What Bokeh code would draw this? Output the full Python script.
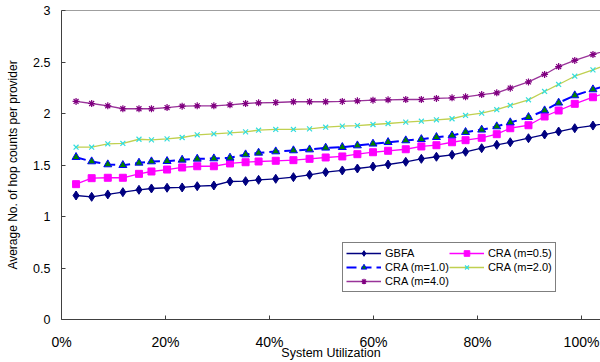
from bokeh.plotting import figure
from bokeh.models import (Range1d, FixedTicker, CustomJSTickFormatter, Legend,
                          LegendItem, Span)
from bokeh.embed import file_html
from bokeh.resources import INLINE

# ---- data ----
utilization = [2.8, 5.8, 8.9, 11.8, 14.9, 17.3, 20.3, 23.2, 26.1, 29.3, 32.4,
               35.4, 37.9, 41.2, 44.6, 47.7, 50.8, 54.0, 56.9, 59.9, 62.8, 66.2,
               69.2, 72.1, 75.1, 77.7, 80.8, 83.7, 86.3, 89.8, 92.9, 95.6, 98.7,
               102.2, 105.3]

gbfa = [1.204, 1.191, 1.214, 1.236, 1.259, 1.272, 1.279, 1.282, 1.294, 1.301, 1.340,
        1.343, 1.356, 1.366, 1.382, 1.405, 1.430, 1.447, 1.466, 1.485, 1.505, 1.531,
        1.560, 1.580, 1.599, 1.628, 1.663, 1.696, 1.721, 1.760, 1.796, 1.825, 1.857,
        1.883, 1.910]

cra_m05 = [1.314, 1.372, 1.376, 1.376, 1.414, 1.437, 1.456, 1.476, 1.488, 1.488, 1.515,
           1.527, 1.534, 1.541, 1.547, 1.560, 1.573, 1.583, 1.605, 1.624, 1.638, 1.653,
           1.680, 1.692, 1.721, 1.741, 1.764, 1.799, 1.857, 1.886, 1.971, 2.029, 2.094,
           2.158, 2.210]

cra_m10 = [1.576, 1.534, 1.505, 1.498, 1.521, 1.534, 1.537, 1.550, 1.560, 1.563, 1.570,
           1.602, 1.618, 1.631, 1.641, 1.650, 1.667, 1.673, 1.689, 1.706, 1.721, 1.738,
           1.750, 1.770, 1.786, 1.819, 1.842, 1.874, 1.913, 1.964, 2.029, 2.104, 2.175,
           2.233, 2.280]

cra_m20 = [1.673, 1.673, 1.706, 1.709, 1.750, 1.744, 1.754, 1.767, 1.793, 1.803, 1.812,
           1.822, 1.838, 1.845, 1.845, 1.851, 1.867, 1.877, 1.883, 1.893, 1.903, 1.916,
           1.925, 1.939, 1.949, 1.981, 2.004, 2.037, 2.078, 2.133, 2.214, 2.282, 2.362,
           2.424, 2.480]

cra_m40 = [2.117, 2.097, 2.075, 2.046, 2.046, 2.046, 2.058, 2.071, 2.075, 2.075, 2.084,
           2.097, 2.104, 2.107, 2.114, 2.114, 2.114, 2.117, 2.123, 2.129, 2.133, 2.136,
           2.136, 2.146, 2.152, 2.162, 2.184, 2.201, 2.246, 2.307, 2.379, 2.456, 2.515,
           2.573, 2.620]

x_ticks = [0, 20, 40, 60, 80, 100]
y_ticks = [0, 0.5, 1, 1.5, 2, 2.5, 3]

FONT = "Liberation Sans"
AXIS_COLOR = "#404040"

p = figure(width=600, height=362, output_backend="svg", toolbar_location=None,
           x_range=Range1d(0, 103.65), y_range=Range1d(0, 3),
           min_border_left=61, min_border_right=0, min_border_top=10,
           min_border_bottom=43)
p.xgrid.visible = False
p.ygrid.visible = False
p.outline_line_color = None
p.background_fill_color = "white"
p.border_fill_color = "white"

# top border of the plot area
p.add_layout(Span(location=3, dimension="width", line_color=AXIS_COLOR, line_width=1))

# axes
for ax in (p.xaxis[0], p.yaxis[0]):
    ax.axis_line_color = AXIS_COLOR
    ax.axis_line_width = 1
    ax.major_tick_line_color = AXIS_COLOR
    ax.major_tick_in = 4
    ax.major_tick_out = 0
    ax.minor_tick_line_color = None
    ax.major_label_text_font = FONT
    ax.major_label_text_color = "black"
    ax.axis_label_text_font = FONT
    ax.axis_label_text_font_style = "normal"
    ax.axis_label_text_color = "black"

p.xaxis.ticker = FixedTicker(ticks=x_ticks)
p.xaxis.formatter = CustomJSTickFormatter(code="return tick + '%';")
p.xaxis.major_label_text_font_size = "14px"
p.xaxis.major_label_standoff = 14
p.xaxis.axis_label = "System Utilization"
p.xaxis.axis_label_text_font_size = "12.5px"
p.xaxis.axis_label_standoff = -7

p.yaxis.ticker = FixedTicker(ticks=y_ticks)
p.yaxis.formatter = CustomJSTickFormatter(code="return String(tick);")
p.yaxis.major_label_text_font_size = "12.5px"
p.yaxis.major_label_standoff = 11
p.yaxis.axis_label = "Average No. of hop counts per provider"
p.yaxis.axis_label_text_font_size = "12px"
p.yaxis.axis_label_standoff = 10

# series
l1 = p.line(utilization, gbfa, line_color="#000080", line_width=1.3)
m1 = p.scatter(utilization, gbfa, marker="diamond", size=9,
               fill_color="#000080", line_color="#000080")

l2 = p.line(utilization, cra_m05, line_color="#FF00FF", line_width=1.3)
m2 = p.scatter(utilization, cra_m05, marker="square", size=7,
               fill_color="#FF00FF", line_color="#FF00FF")

l3 = p.line(utilization, cra_m10, line_color="#0000FF", line_width=2,
            line_dash="10 5")
m3 = p.scatter(utilization, cra_m10, marker="triangle", size=8,
               fill_color="#008000", line_color="#0000FF", line_width=1)

l4 = p.line(utilization, cra_m20, line_color="#C0D050", line_width=1.3)
m4 = p.scatter(utilization, cra_m20, marker="x", size=7,
               line_color="#33DDDD", line_width=1.2)

l5 = p.line(utilization, cra_m40, line_color="#993399", line_width=1.3)
m5 = p.scatter(utilization, cra_m40, marker="asterisk", size=7,
               line_color="#800080", line_width=1.2)

legend = Legend(items=[
    LegendItem(label="GBFA", renderers=[l1, m1]),
    LegendItem(label="CRA (m=0.5)", renderers=[l2, m2]),
    LegendItem(label="CRA (m=1.0)", renderers=[l3, m3]),
    LegendItem(label="CRA (m=2.0)", renderers=[l4, m4]),
    LegendItem(label="CRA (m=4.0)", renderers=[l5, m5]),
], location=(281, 27), orientation="horizontal", nrows=3)
legend.border_line_color = "black"
legend.border_line_width = 1
legend.background_fill_color = "white"
legend.background_fill_alpha = 1
legend.label_text_font = FONT
legend.label_text_font_size = "11px"
legend.label_text_color = "black"
legend.glyph_width = 35
legend.glyph_height = 14
legend.label_height = 14
legend.label_standoff = 4
legend.spacing = 0
legend.padding = 3
legend.margin = 0
p.add_layout(legend)

open("out.html", "w").write(file_html(p, INLINE))
